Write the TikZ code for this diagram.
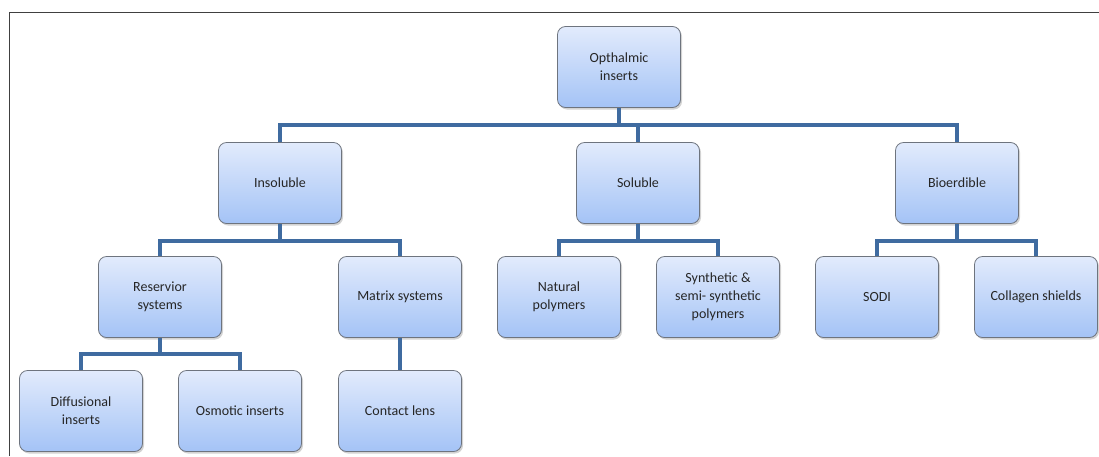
\documentclass[tikz,border=0pt]{standalone}
\usepackage{fontspec}
\setmainfont{Carlito}
\usetikzlibrary{shadows}
\definecolor{boxtop}{RGB}{226,235,252}
\definecolor{boxbot}{RGB}{164,195,246}
\definecolor{boxline}{RGB}{110,116,126}
\definecolor{linkblue}{RGB}{63,107,160}
\begin{document}
\begin{tikzpicture}[x=1pt,y=-1pt,
  box/.style={draw=boxline, line width=0.8pt, rounded corners=8pt,
    top color=boxtop, bottom color=boxbot,
    minimum width=123pt, minimum height=81pt, align=center,
    font=\fontsize{14}{18}\selectfont, text=black!85,
    drop shadow={shadow xshift=1.5pt, shadow yshift=-2pt, opacity=0.35}},
  link/.style={draw=linkblue, line width=4pt}]
\useasboundingbox (0,0) rectangle (1099,456);
% frame
\draw[line width=1pt, black!75] (9,456) -- (9,12) -- (1099,12);
% boxes
\node[box] (root) at (619,67) {Opthalmic\\inserts};
\node[box] (insol) at (280,183) {Insoluble};
\node[box] (sol) at (638,183) {Soluble};
\node[box] (bio) at (957,183) {Bioerdible};
\node[box] (res) at (160,297) {Reservior\\systems};
\node[box] (mat) at (400,297) {Matrix systems};
\node[box] (nat) at (559,297) {Natural\\polymers};
\node[box] (syn) at (718,297) {Synthetic \&\\semi- synthetic\\polymers};
\node[box] (sodi) at (877,297) {SODI};
\node[box] (col) at (1036,297) {Collagen shields};
\node[box] (dif) at (81,411) {Diffusional\\inserts};
\node[box] (osm) at (240,411) {Osmotic inserts};
\node[box] (con) at (400,411) {Contact lens};
% links
\draw[link] (root.south) -- ++(0,17) coordinate (r1);
\draw[link] (insol.north) |- (r1) -| (bio.north);
\draw[link] (r1 -| sol.north) -- (sol.north);
\draw[link] (insol.south) -- ++(0,17) coordinate (i1);
\draw[link] (res.north) |- (i1) -| (mat.north);
\draw[link] (sol.south) -- ++(0,17) coordinate (s1);
\draw[link] (nat.north) |- (s1) -| (syn.north);
\draw[link] (bio.south) -- ++(0,17) coordinate (b1);
\draw[link] (sodi.north) |- (b1) -| (col.north);
\draw[link] (res.south) -- ++(0,16) coordinate (v1);
\draw[link] (dif.north) |- (v1) -| (osm.north);
\draw[link] (mat.south) -- (con.north);
\end{tikzpicture}
\end{document}
